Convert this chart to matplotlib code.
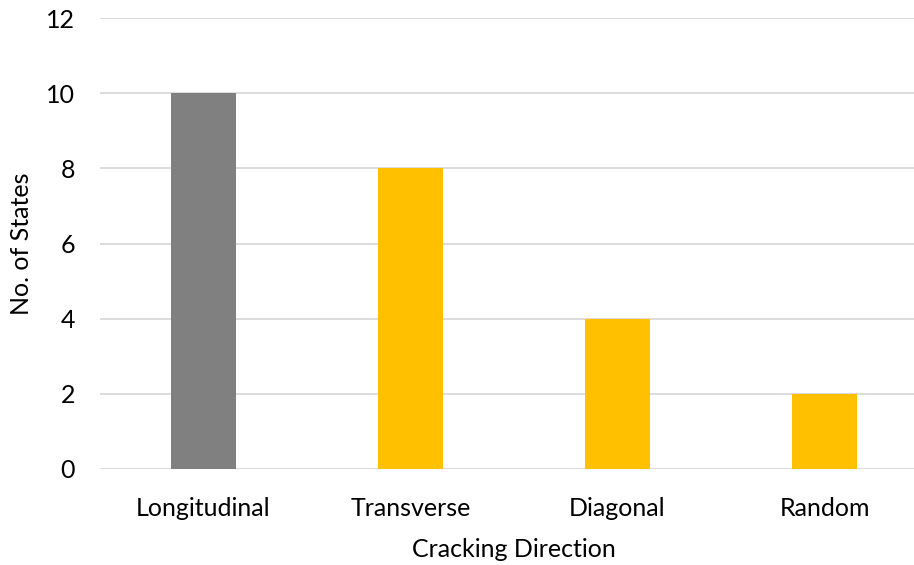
import matplotlib.pyplot as plt

categories = ['Longitudinal', 'Transverse', 'Diagonal', 'Random']
values = [10, 8, 4, 2]
colors = ['#808080', '#FFC000', '#FFC000', '#FFC000']

plt.rcParams['font.family'] = ['Lato', 'DejaVu Sans']

fig = plt.figure(figsize = (9.14, 5.65), dpi = 100)
ax = fig.add_axes([100 / 914, 96 / 565, 828 / 914, 451 / 565])

ax.bar(range(len(categories)), values, width = 0.314, color = colors, zorder = 3)

ax.set_xlim(-0.5, 3.5)
ax.set_ylim(0, 12)
ax.set_yticks(range(0, 13, 2))
ax.set_xticks(range(len(categories)))
ax.set_xticklabels(categories)
ax.yaxis.grid(True, color = '#D9D9D9', linewidth = 1.3, zorder = 0)

for s in ax.spines.values():
	s.set_visible(False)

ax.tick_params(length = 0, labelsize = 18, colors = '#000000')
ax.tick_params(axis = 'x', pad = 20)
ax.tick_params(axis = 'y', pad = 18)

ax.set_xlabel('Cracking Direction', fontsize = 18, labelpad = 13)
ax.set_ylabel('No. of States', fontsize = 18, labelpad = 9)

plt.savefig('out.png')
